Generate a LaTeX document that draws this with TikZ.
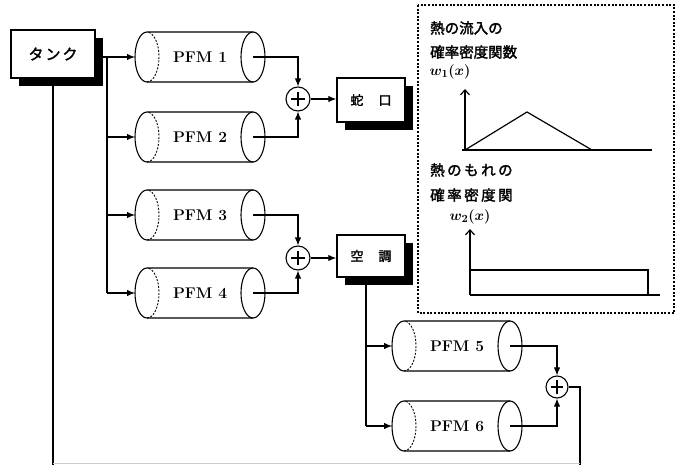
\documentclass[tikz,border=0pt]{standalone}
\usepackage{fontspec}
\usetikzlibrary{arrows.meta,shadows,calc}
\newfontfamily\jp{Noto Sans CJK JP}[FakeBold=2]
\tikzset{
  conn/.style={line width=1.1pt,-{Latex[length=8pt,width=6.5pt]}},
  plainline/.style={line width=1.1pt},
  cylline/.style={line width=1.1pt},
  boxnode/.style={draw,line width=1.5pt,fill=white,minimum width=68pt,minimum height=44pt,inner sep=0pt,
    drop shadow={shadow xshift=8pt,shadow yshift=-8pt,fill=black,opacity=1},
    font=\jp\fontsize{13}{15}\selectfont},
  sumnode/.style={draw,circle,line width=1.1pt,minimum size=24pt,inner sep=0pt,fill=white,
    path picture={
      \draw[line width=1.3pt] ($(path picture bounding box.north)!0.2!(path picture bounding box.south)$)
        -- ($(path picture bounding box.north)!0.8!(path picture bounding box.south)$);
      \draw[line width=1.3pt] ($(path picture bounding box.west)!0.22!(path picture bounding box.east)$)
        -- ($(path picture bounding box.west)!0.78!(path picture bounding box.east)$);}},
  pfmtext/.style={inner sep=1pt,font=\fontsize{15.5}{17}\selectfont\bfseries},
  charttext/.style={anchor=west,inner sep=0pt,font=\jp\fontsize{14.5}{16}\selectfont},
  wlabel/.style={inner sep=0pt,font=\fontsize{15}{17}\selectfont\boldmath},
  chartline/.style={line width=1.2pt},
  axisarrow/.style={line width=1.2pt,-{Straight Barb[length=5pt,width=9pt,line width=1.2pt]}},
  dashbox/.style={line width=1.2pt,dash pattern=on 2pt off 1.6pt},
  backarc/.style={line width=0.9pt,dash pattern=on 2pt off 1.5pt}
}
\newcommand\pfmcyl[4]{%
  \begin{scope}[shift={(#2,#3)}]
    \draw[cylline] (106,25) -- (0,25) arc[start angle=90,end angle=270,x radius=12pt,y radius=25pt] -- (106,-25);
    \draw[cylline] (106,0) ellipse [x radius=12pt,y radius=25pt];
    \draw[backarc] (0,-25) arc[start angle=-90,end angle=90,x radius=12pt,y radius=25pt];
    \node[pfmtext] (#1) at (53,0) {#4};
    \coordinate (#1-in) at (-12,0);
    \coordinate (#1-out) at (106,0);
  \end{scope}}
\begin{document}
\begin{tikzpicture}[x=1pt,y=1pt]
\useasboundingbox (0,0) rectangle (679,-465);

% tank
\node[boxnode,minimum width=84pt,minimum height=48pt,font=\jp\fontsize{15}{17}\selectfont] (tank) at (53,-54) {タ\kern2pt ン\kern2pt ク};

% cylinders
\pfmcyl{p1}{147}{-57}{PFM 1}
\pfmcyl{p2}{147}{-137}{PFM 2}
\pfmcyl{p3}{147}{-215}{PFM 3}
\pfmcyl{p4}{147}{-293}{PFM 4}
\pfmcyl{p5}{404}{-346}{PFM 5}
\pfmcyl{p6}{404}{-426}{PFM 6}

% summing junctions
\node[sumnode] (s1) at (298,-99) {};
\node[sumnode] (s2) at (298,-258) {};
\node[sumnode,minimum size=22pt] (s3) at (557,-387) {};

% output boxes
\node[boxnode] (faucet) at (371,-100) {蛇\hspace{15pt}口};
\node[boxnode,minimum height=42pt] (ac) at (371,-256) {空\hspace{15pt}調};

% tank distribution bus
\coordinate (busA) at (107,-57);
\draw[conn] (tank.east |- p1-in) -- (p1-in);
\draw[plainline] (busA) -- (busA |- p4-in);
\draw[conn] (busA |- p2-in) -- (p2-in);
\draw[conn] (busA |- p3-in) -- (p3-in);
\draw[conn] (busA |- p4-in) -- (p4-in);

% PFM outputs to sums
\draw[conn] (p1-out) -| (s1);
\draw[conn] (p2-out) -| (s1);
\draw[conn] (p3-out) -| (s2);
\draw[conn] (p4-out) -| (s2);
\draw[conn] (s1.east) -- (s1.east -| faucet.west);
\draw[conn] (s2.east) -- (s2.east -| ac.west);

% air conditioner bus
\coordinate (busB) at (366,-285);
\draw[plainline] (busB) -- (busB |- p6-in);
\draw[conn] (busB |- p5-in) -- (p5-in);
\draw[conn] (busB |- p6-in) -- (p6-in);
\draw[conn] (p5-out) -| (s3);
\draw[conn] (p6-out) -| (s3);

% return lines
\coordinate (retL) at (53,-465);
\coordinate (retR) at (580,-465);
\coordinate (botL) at (53,-463.5);
\coordinate (botR) at (580,-463.5);
\draw[plainline] (tank.south) -- (retL);
\draw[plainline] (s3.east) -| (retR);
\draw[gray!40,line width=0.8pt] (botL) -- (botR);

% dashed panel
\draw[dashbox] (418,-5) rectangle (674,-313);

% chart 1
\node[charttext] (t1a) at (430,-28) {熱の流入の};
\node[charttext] (t1b) at (430,-52) {確率密度関数};
\node[wlabel] (w1) at (450,-72) {$w_1(x)$};
\coordinate (o1) at (465,-150);
\draw[axisarrow] (o1) -- (465,-89);
\draw[chartline] (462,-150) -- (652,-150);
\draw[chartline] (o1) -- (527,-112) -- (592,-150);

% chart 2
\node[charttext] (t2a) at (430,-170) {熱\kern2.5pt の\kern2.5pt も\kern2.5pt れ\kern2.5pt の};
\node[charttext] (t2b) at (430,-195) {確\kern2.5pt 率\kern2.5pt 密\kern2.5pt 度\kern2.5pt 関};
\node[wlabel] (w2) at (470,-217) {$w_2(x)$};
\coordinate (o2) at (470,-295);
\draw[axisarrow] (o2) -- (470,-229);
\draw[chartline] (o2) -- (660,-295);
\draw[chartline] (470,-270) -- (648,-270) -- (648,-295);
\end{tikzpicture}
\end{document}
